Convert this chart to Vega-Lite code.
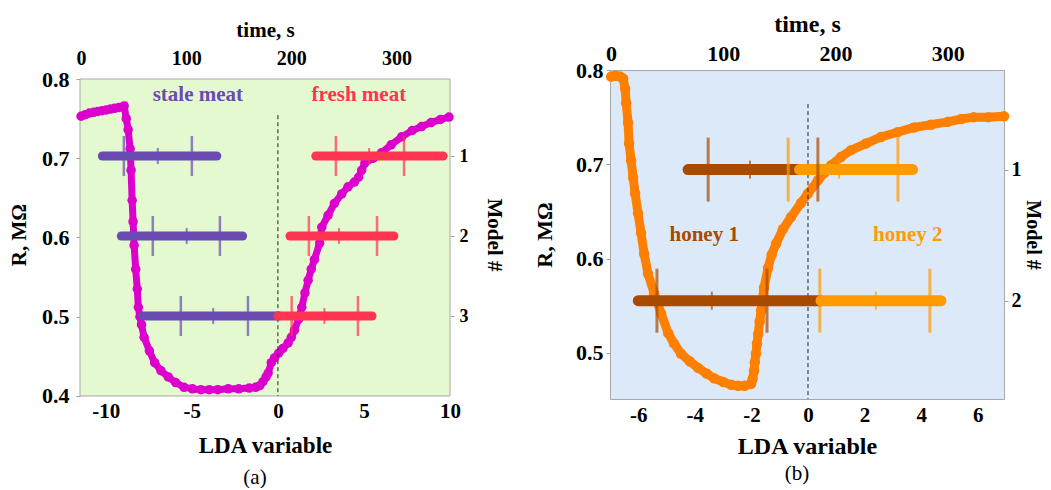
{
  "$schema": "https://vega.github.io/schema/vega-lite/v6.json",
  "background": "white",
  "padding": {"left": 8, "top": 11, "right": 0, "bottom": 0},
  "spacing": 29,
  "datasets": {
    "curveA": [
      {"time": 0, "R": 0.753}, {"time": 4, "R": 0.755}, {"time": 8, "R": 0.757}, {"time": 12, "R": 0.758},
      {"time": 16, "R": 0.759}, {"time": 20, "R": 0.760}, {"time": 24, "R": 0.761}, {"time": 28, "R": 0.762},
      {"time": 32, "R": 0.763}, {"time": 36, "R": 0.764}, {"time": 41, "R": 0.766}, {"time": 43, "R": 0.75},
      {"time": 44.8, "R": 0.736}, {"time": 46.7, "R": 0.712}, {"time": 47.6, "R": 0.685}, {"time": 48.6, "R": 0.647},
      {"time": 49.5, "R": 0.62}, {"time": 50.5, "R": 0.59}, {"time": 52, "R": 0.56}, {"time": 53.5, "R": 0.535},
      {"time": 54.5, "R": 0.512}, {"time": 56, "R": 0.5}, {"time": 57.5, "R": 0.49}, {"time": 60, "R": 0.474},
      {"time": 65, "R": 0.457}, {"time": 70, "R": 0.442}, {"time": 76, "R": 0.432}, {"time": 83, "R": 0.424},
      {"time": 90, "R": 0.417}, {"time": 98, "R": 0.411}, {"time": 106, "R": 0.409}, {"time": 114, "R": 0.408},
      {"time": 122, "R": 0.408}, {"time": 130, "R": 0.408}, {"time": 140, "R": 0.409}, {"time": 150, "R": 0.409},
      {"time": 160, "R": 0.41}, {"time": 166, "R": 0.411}, {"time": 170, "R": 0.413}, {"time": 173, "R": 0.418},
      {"time": 176, "R": 0.424}, {"time": 178, "R": 0.429}, {"time": 181, "R": 0.442}, {"time": 184, "R": 0.448},
      {"time": 188, "R": 0.454}, {"time": 192, "R": 0.46}, {"time": 197, "R": 0.467}, {"time": 200, "R": 0.474},
      {"time": 203, "R": 0.483}, {"time": 207, "R": 0.497}, {"time": 210, "R": 0.512}, {"time": 213, "R": 0.53},
      {"time": 216, "R": 0.546}, {"time": 219, "R": 0.56}, {"time": 222, "R": 0.572}, {"time": 227, "R": 0.593},
      {"time": 229, "R": 0.613}, {"time": 235, "R": 0.628}, {"time": 241, "R": 0.643}, {"time": 248, "R": 0.655},
      {"time": 254, "R": 0.664}, {"time": 260, "R": 0.67}, {"time": 264, "R": 0.676}, {"time": 267, "R": 0.685},
      {"time": 270, "R": 0.694}, {"time": 278, "R": 0.7}, {"time": 286, "R": 0.707}, {"time": 295, "R": 0.717},
      {"time": 305, "R": 0.727}, {"time": 315, "R": 0.735}, {"time": 324, "R": 0.74}, {"time": 333, "R": 0.745},
      {"time": 342, "R": 0.749}, {"time": 350, "R": 0.752}
    ],
    "curveB": [
      {"time": 0, "R": 0.793}, {"time": 4, "R": 0.794}, {"time": 8, "R": 0.793}, {"time": 10.7, "R": 0.791},
      {"time": 12.5, "R": 0.78}, {"time": 13.4, "R": 0.765}, {"time": 15.1, "R": 0.744}, {"time": 16, "R": 0.722},
      {"time": 17.8, "R": 0.704}, {"time": 19.6, "R": 0.686}, {"time": 21.4, "R": 0.669}, {"time": 24, "R": 0.648},
      {"time": 26.7, "R": 0.627}, {"time": 29.4, "R": 0.605}, {"time": 32.9, "R": 0.584}, {"time": 38.3, "R": 0.563},
      {"time": 44.5, "R": 0.542}, {"time": 50.8, "R": 0.521}, {"time": 56, "R": 0.51}, {"time": 62.3, "R": 0.499},
      {"time": 70, "R": 0.491}, {"time": 77.5, "R": 0.484}, {"time": 85, "R": 0.478}, {"time": 91.7, "R": 0.473},
      {"time": 100, "R": 0.469}, {"time": 107, "R": 0.466}, {"time": 113, "R": 0.465}, {"time": 119, "R": 0.465},
      {"time": 124.7, "R": 0.467}, {"time": 126, "R": 0.472}, {"time": 127.3, "R": 0.481}, {"time": 128, "R": 0.49},
      {"time": 129, "R": 0.499}, {"time": 130, "R": 0.51}, {"time": 131, "R": 0.52}, {"time": 132.3, "R": 0.533},
      {"time": 133.6, "R": 0.545}, {"time": 136.2, "R": 0.569}, {"time": 139.8, "R": 0.59}, {"time": 143, "R": 0.604},
      {"time": 147, "R": 0.616}, {"time": 153, "R": 0.631}, {"time": 160.3, "R": 0.644}, {"time": 169.2, "R": 0.659},
      {"time": 175.4, "R": 0.669}, {"time": 184.3, "R": 0.683}, {"time": 190, "R": 0.691}, {"time": 196, "R": 0.699},
      {"time": 205, "R": 0.708}, {"time": 213.7, "R": 0.715}, {"time": 227, "R": 0.722}, {"time": 240.4, "R": 0.729},
      {"time": 255, "R": 0.734}, {"time": 269.8, "R": 0.739}, {"time": 285, "R": 0.742}, {"time": 300, "R": 0.745},
      {"time": 312, "R": 0.748}, {"time": 323, "R": 0.75}, {"time": 336, "R": 0.75}, {"time": 350, "R": 0.751}
    ],
    "bandsA": [
      {"model": 1, "lda": -10.2, "lda2": -3.55, "group": "stale meat"},
      {"model": 1, "lda": 2.2, "lda2": 9.6, "group": "fresh meat"},
      {"model": 2, "lda": -9.1, "lda2": -2.05, "group": "stale meat"},
      {"model": 2, "lda": 0.7, "lda2": 6.74, "group": "fresh meat"},
      {"model": 3, "lda": -7.85, "lda2": 0.06, "group": "stale meat"},
      {"model": 3, "lda": 0.0, "lda2": 5.47, "group": "fresh meat"}
    ],
    "ticksA": [
      {"model": 1, "lda": -8.95, "group": "stale meat", "kind": "long"},
      {"model": 1, "lda": -5.0, "group": "stale meat", "kind": "long"},
      {"model": 1, "lda": -6.98, "group": "stale meat", "kind": "short"},
      {"model": 1, "lda": 3.37, "group": "fresh meat", "kind": "long"},
      {"model": 1, "lda": 7.33, "group": "fresh meat", "kind": "long"},
      {"model": 1, "lda": 5.3, "group": "fresh meat", "kind": "short"},
      {"model": 2, "lda": -7.27, "group": "stale meat", "kind": "long"},
      {"model": 2, "lda": -3.37, "group": "stale meat", "kind": "long"},
      {"model": 2, "lda": -5.3, "group": "stale meat", "kind": "short"},
      {"model": 2, "lda": 1.8, "group": "fresh meat", "kind": "long"},
      {"model": 2, "lda": 5.76, "group": "fresh meat", "kind": "long"},
      {"model": 2, "lda": 3.55, "group": "fresh meat", "kind": "short"},
      {"model": 3, "lda": -5.64, "group": "stale meat", "kind": "long"},
      {"model": 3, "lda": -1.74, "group": "stale meat", "kind": "long"},
      {"model": 3, "lda": -3.76, "group": "stale meat", "kind": "short"},
      {"model": 3, "lda": 0.8, "group": "fresh meat", "kind": "long"},
      {"model": 3, "lda": 4.65, "group": "fresh meat", "kind": "long"},
      {"model": 3, "lda": 2.7, "group": "fresh meat", "kind": "short"}
    ],
    "labelsA": [
      {"lda": -4.65, "model": 0.24, "label": "stale meat", "group": "stale meat"},
      {"lda": 4.7, "model": 0.24, "label": "fresh meat", "group": "fresh meat"}
    ],
    "divA": [{"lda": 0, "model": 0.49, "model2": 4}],
    "bandsB": [
      {"model": 1, "lda": -4.24, "lda2": -0.25, "group": "honey 1"},
      {"model": 1, "lda": -0.3, "lda2": 3.7, "group": "honey 2"},
      {"model": 2, "lda": -6.0, "lda2": 0.46, "group": "honey 1"},
      {"model": 2, "lda": 0.46, "lda2": 4.7, "group": "honey 2"}
    ],
    "ticksB": [
      {"model": 1, "lda": -3.53, "group": "honey 1", "kind": "long"},
      {"model": 1, "lda": 0.35, "group": "honey 1", "kind": "long"},
      {"model": 1, "lda": -0.7, "group": "honey 2", "kind": "long"},
      {"model": 1, "lda": 3.18, "group": "honey 2", "kind": "long"},
      {"model": 2, "lda": -5.34, "group": "honey 1", "kind": "long"},
      {"model": 2, "lda": -1.45, "group": "honey 1", "kind": "long"},
      {"model": 2, "lda": 0.42, "group": "honey 2", "kind": "long"},
      {"model": 2, "lda": 4.31, "group": "honey 2", "kind": "long"},
      {"model": 1, "lda": -2.05, "group": "honey 1", "kind": "short"},
      {"model": 1, "lda": 1.1, "group": "honey 2", "kind": "short"},
      {"model": 2, "lda": -3.4, "group": "honey 1", "kind": "short"},
      {"model": 2, "lda": 2.4, "group": "honey 2", "kind": "short"}
    ],
    "labelsB": [
      {"lda": -3.67, "model": 1.5, "label": "honey 1", "group": "honey 1"},
      {"lda": 3.53, "model": 1.5, "label": "honey 2", "group": "honey 2"}
    ],
    "divB": [{"lda": 0, "model": 0.5, "model2": 2.75}]
  },
  "hconcat": [
    {
      "width": 370,
      "height": 329,
      "view": {"stroke": null},
      "title": {"text": "(a)", "orient": "bottom", "fontSize": 21, "fontWeight": "normal", "font": "Liberation Serif", "color": "black", "dx": -10, "offset": 10},
      "resolve": {"scale": {"x": "independent", "y": "independent"}},
      "layer": [
        {
          "layer": [
            {
              "data": {"values": [{}]},
              "mark": {"type": "rect", "fill": "#E5F9D0", "stroke": "#a8a8a8", "strokeWidth": 1},
              "encoding": {
                "x": {"datum": -1, "type": "quantitative"},
                "x2": {"datum": 351},
                "y": {"datum": 0.4, "type": "quantitative"},
                "y2": {"datum": 0.8}
              }
            },
            {
              "data": {"name": "curveA"},
              "mark": {"type": "line", "color": "#DD00CC", "strokeWidth": 7},
              "encoding": {
                "x": {"field": "time", "type": "quantitative"},
                "y": {"field": "R", "type": "quantitative"}
              }
            },
            {
              "data": {"name": "curveA"},
              "mark": {"type": "circle", "color": "#DD00CC", "size": 90, "opacity": 1},
              "encoding": {
                "x": {"field": "time", "type": "quantitative",
                      "scale": {"domain": [-1, 351], "nice": false, "zero": false},
                      "axis": {"orient": "top", "title": "time, s", "values": [0, 100, 200, 300], "domain": false, "ticks": false, "tickSize": 0, "labelPadding": 2, "titlePadding": 8,
                               "labelFont": "Liberation Serif", "labelFontWeight": "bold", "labelFontSize": 20, "labelColor": "black",
                               "titleFont": "Liberation Serif", "titleFontWeight": "bold", "titleFontSize": 21, "titleColor": "black"}},
                "y": {"field": "R", "type": "quantitative",
                      "scale": {"domain": [0.39621, 0.81136], "nice": false, "zero": false},
                      "axis": {"orient": "left", "title": "R, MΩ", "values": [0.4, 0.5, 0.6, 0.7, 0.8], "format": ".1f", "domain": false, "tickSize": 4, "tickColor": "#a0a0a0", "labelPadding": 7, "titlePadding": 12,
                               "labelFont": "Liberation Serif", "labelFontWeight": "bold", "labelFontSize": 22, "labelColor": "black",
                               "titleFont": "Liberation Serif", "titleFontWeight": "bold", "titleFontSize": 21, "titleColor": "black"}}
              }
            }
          ]
        },
        {
          "encoding": {
            "x": {"field": "lda", "type": "quantitative",
                  "scale": {"domain": [-11.5, 10], "nice": false, "zero": false},
                  "axis": {"orient": "bottom", "title": "LDA variable", "values": [-10, -5, 0, 5, 10], "labelExpr": "'' + datum.value", "domain": false, "ticks": false, "tickSize": 0, "labelPadding": 1, "titlePadding": 13,
                           "labelFont": "Liberation Serif", "labelFontWeight": "bold", "labelFontSize": 21, "labelColor": "black",
                           "titleFont": "Liberation Serif", "titleFontWeight": "bold", "titleFontSize": 23, "titleColor": "black"}},
            "y": {"field": "model", "type": "quantitative",
                  "scale": {"domain": [-0.075, 4.0375], "reverse": true, "nice": false, "zero": false},
                  "axis": {"orient": "right", "title": "Model #", "values": [1, 2, 3], "domain": false, "tickSize": 4, "tickColor": "#a0a0a0", "labelPadding": 5, "titlePadding": 15,
                           "labelFont": "Liberation Serif", "labelFontWeight": "bold", "labelFontSize": 18, "labelColor": "black",
                           "titleFont": "Liberation Serif", "titleFontWeight": "bold", "titleFontSize": 21, "titleColor": "black"}}
          },
          "layer": [
            {
              "data": {"name": "divA"},
              "mark": {"type": "rule", "color": "#222222", "strokeWidth": 1, "strokeDash": [4, 3]},
              "encoding": {"y2": {"field": "model2"}}
            },
            {
              "data": {"name": "bandsA"},
              "mark": {"type": "rule", "strokeWidth": 9, "strokeCap": "round"},
              "encoding": {
                "x2": {"field": "lda2"},
                "color": {"field": "group", "type": "nominal", "legend": null,
                          "scale": {"domain": ["stale meat", "fresh meat", "honey 1", "honey 2"], "range": ["#6A4BB2", "#FF3352", "#A84A00", "#FF9A00"]}}
              }
            },
            {
              "data": {"name": "ticksA"},
              "transform": [{"filter": "datum.kind == 'long'"}],
              "mark": {"type": "tick", "orient": "vertical", "size": 40, "thickness": 2.5},
              "encoding": {"color": {"field": "group", "type": "nominal", "legend": null}}
            },
            {
              "data": {"name": "ticksA"},
              "transform": [{"filter": "datum.kind == 'short'"}],
              "mark": {"type": "tick", "orient": "vertical", "size": 16, "thickness": 2},
              "encoding": {"color": {"field": "group", "type": "nominal", "legend": null}}
            },
            {
              "data": {"name": "labelsA"},
              "mark": {"type": "text", "font": "Liberation Serif", "fontWeight": "bold", "fontSize": 21},
              "encoding": {
                "text": {"field": "label"},
                "color": {"field": "group", "type": "nominal", "legend": null}
              }
            }
          ]
        }
      ]
    },
    {
      "width": 394,
      "height": 329,
      "view": {"fill": "#DCE9F8", "stroke": "#a8a8a8"},
      "title": {"text": "(b)", "orient": "bottom", "fontSize": 21, "fontWeight": "normal", "font": "Liberation Serif", "color": "black", "dx": -10, "offset": 5},
      "resolve": {"scale": {"x": "independent", "y": "independent"}},
      "layer": [
        {
          "data": {"name": "curveB"},
          "encoding": {
            "x": {"field": "time", "type": "quantitative", "scale": {"domain": [-1, 350], "nice": false, "zero": false},
                  "axis": {"orient": "top", "title": "time, s", "values": [0, 100, 200, 300], "domain": false, "ticks": false, "tickSize": 0, "labelPadding": 5, "titlePadding": 6,
                           "labelFont": "Liberation Serif", "labelFontWeight": "bold", "labelFontSize": 22, "labelColor": "black",
                           "titleFont": "Liberation Serif", "titleFontWeight": "bold", "titleFontSize": 24, "titleColor": "black"}},
            "y": {"field": "R", "type": "quantitative", "scale": {"domain": [0.451, 0.8], "nice": false, "zero": false},
                  "axis": {"orient": "left", "title": "R, MΩ", "values": [0.5, 0.6, 0.7, 0.8], "format": ".1f", "domain": false, "tickSize": 4, "tickColor": "#a0a0a0", "labelPadding": 3, "titlePadding": 19,
                           "labelFont": "Liberation Serif", "labelFontWeight": "bold", "labelFontSize": 22, "labelColor": "black",
                           "titleFont": "Liberation Serif", "titleFontWeight": "bold", "titleFontSize": 22, "titleColor": "black"}}
          },
          "layer": [
            {"mark": {"type": "line", "color": "#FF8000", "strokeWidth": 9}},
            {"mark": {"type": "circle", "color": "#FF8000", "size": 110, "opacity": 1}}
          ]
        },
        {
          "encoding": {
            "x": {"field": "lda", "type": "quantitative", "scale": {"domain": [-7, 6.93], "nice": false, "zero": false},
                  "axis": {"orient": "bottom", "title": "LDA variable", "values": [-6, -4, -2, 0, 2, 4, 6], "labelExpr": "'' + datum.value", "domain": false, "ticks": false, "tickSize": 0, "labelPadding": 5, "titlePadding": 9,
                           "labelFont": "Liberation Serif", "labelFontWeight": "bold", "labelFontSize": 21, "labelColor": "black",
                           "titleFont": "Liberation Serif", "titleFontWeight": "bold", "titleFontSize": 24, "titleColor": "black"}},
            "y": {"field": "model", "type": "quantitative", "scale": {"domain": [0.24, 2.75], "reverse": true, "nice": false, "zero": false},
                  "axis": {"orient": "right", "title": "Model #", "values": [1, 2], "domain": false, "tickSize": 4, "tickColor": "#a0a0a0", "labelPadding": 3, "titlePadding": 1,
                           "labelFont": "Liberation Serif", "labelFontWeight": "bold", "labelFontSize": 20, "labelColor": "black",
                           "titleFont": "Liberation Serif", "titleFontWeight": "bold", "titleFontSize": 20, "titleColor": "black"}}
          },
          "layer": [
            {
              "data": {"name": "divB"},
              "mark": {"type": "rule", "color": "#222222", "strokeWidth": 1, "strokeDash": [4, 3]},
              "encoding": {"y2": {"field": "model2"}}
            },
            {
              "data": {"name": "bandsB"},
              "mark": {"type": "rule", "strokeWidth": 11, "strokeCap": "round"},
              "encoding": {
                "x2": {"field": "lda2"},
                "color": {"field": "group", "type": "nominal", "legend": null,
                          "scale": {"domain": ["stale meat", "fresh meat", "honey 1", "honey 2"], "range": ["#6A4BB2", "#FF3352", "#A84A00", "#FF9A00"]}}
              }
            },
            {
              "data": {"name": "ticksB"},
              "transform": [{"filter": "datum.kind == 'long'"}],
              "mark": {"type": "tick", "orient": "vertical", "size": 64, "thickness": 3},
              "encoding": {"color": {"field": "group", "type": "nominal", "legend": null}}
            },
            {
              "data": {"name": "ticksB"},
              "transform": [{"filter": "datum.kind == 'short'"}],
              "mark": {"type": "tick", "orient": "vertical", "size": 18, "thickness": 2},
              "encoding": {"color": {"field": "group", "type": "nominal", "legend": null}}
            },
            {
              "data": {"name": "labelsB"},
              "mark": {"type": "text", "font": "Liberation Serif", "fontWeight": "bold", "fontSize": 21},
              "encoding": {
                "text": {"field": "label"},
                "color": {"field": "group", "type": "nominal", "legend": null}
              }
            }
          ]
        }
      ]
    }
  ],
  "config": {
    "font": "Liberation Serif",
    "axis": {"grid": false, "labelFlush": false, "labelOverlap": false}
  }
}
